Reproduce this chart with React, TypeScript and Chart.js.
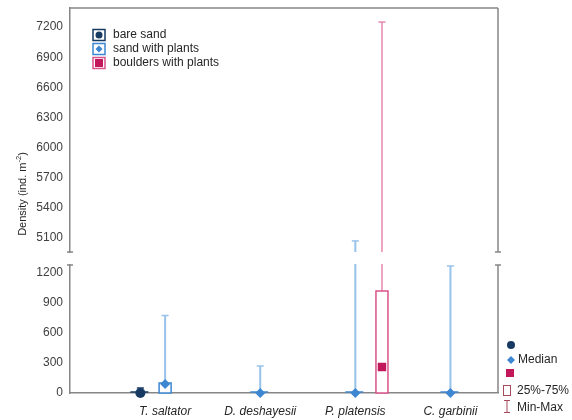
import React, { useEffect, useRef } from 'react';
import { Chart, registerables } from 'chart.js';

Chart.register(...registerables);

// ---------- data ----------
const categories = ['T. saltator', 'D. deshayesii', 'P. platensis', 'C. garbinii'];
const categoryPositions = [1, 2, 3, 4];
const seriesNames = ['bare sand', 'sand with plants', 'boulders with plants'];

const bareMin = [0, null, null, null];
const bareQ1 = [0, null, null, null];
const bareMedian = [0, null, null, null];
const bareQ3 = [0, null, null, null];
const bareMax = [50, null, null, null];

const plantsMin = [0, 0, 0, 0];
const plantsQ1 = [0, 0, 0, 0];
const plantsMedian = [90, 0, 0, 0];
const plantsQ3 = [100, 0, 0, 0];
const plantsMax = [775, 270, 5070, 1270];

const bouldersMin = [null, null, 0, null];
const bouldersQ1 = [null, null, 0, null];
const bouldersMedian = [null, null, 260, null];
const bouldersQ3 = [null, null, 1020, null];
const bouldersMax = [null, null, 7250, null];

const topTicks = [5100, 5400, 5700, 6000, 6300, 6600, 6900, 7200];
const bottomTicks = [0, 300, 600, 900, 1200];
const topRange = [4960, 7390];
const bottomRange = [0, 1280];
const xRange = [0, 4.5];

const yTitle = 'Density (ind. m';
const yTitleSup = '-2';
const keyLabels = ['', 'Median', '', '25%-75%', 'Min-Max'];

// ---------- styles ----------
const FONT = "'Liberation Sans', Arial, sans-serif";
const AXIS = '#868686';
const TEXT = '#262626';
const NAVY = '#173a63';
const BLUE = '#3d86d1';
const BLUE_W = '#97c2ea';
const CRIMSON = '#c2185b';
const PINK = '#d9538a';
const PINK_W = '#e887ae';
const KEY_RED = '#a8495c';

const seriesOffsets = [-0.26, 0, 0.28];
const seriesStyles = [
  { whisker: NAVY, whiskerWidth: 1.5, box: NAVY, point: NAVY, pointStyle: 'circle', radius: 5 },
  { whisker: BLUE_W, whiskerWidth: 2, box: BLUE, point: BLUE, pointStyle: 'rectRot', radius: 5 },
  { whisker: PINK_W, whiskerWidth: 1.5, box: PINK, point: CRIMSON, pointStyle: 'rect', radius: 6 },
];

const seriesList = [
  { min: bareMin, q1: bareQ1, median: bareMedian, q3: bareQ3, max: bareMax },
  { min: plantsMin, q1: plantsQ1, median: plantsMedian, q3: plantsQ3, max: plantsMax },
  { min: bouldersMin, q1: bouldersQ1, median: bouldersMedian, q3: bouldersQ3, max: bouldersMax },
];

const boxWhiskerPlugin = {
  id: 'boxWhisker',
  beforeDatasetsDraw(chart: any, _args: any, opts: any) {
    const { ctx, chartArea: a, scales } = chart;
    const x = scales.x;
    const y = scales.y;
    ctx.save();
    ctx.beginPath();
    ctx.rect(a.left - 20, a.top - (opts.extendTop || 0), a.right - a.left + 40, a.bottom - a.top + (opts.extendTop || 0) + (opts.extendBottom || 0));
    ctx.clip();
    seriesList.forEach((s, si) => {
      const st = seriesStyles[si];
      categories.forEach((_c, i) => {
        if (s.median[i] == null) return;
        const cx = x.getPixelForValue(categoryPositions[i] + seriesOffsets[si]);
        const pMin = y.getPixelForValue(s.min[i]);
        const pQ1 = y.getPixelForValue(s.q1[i]);
        const pQ3 = y.getPixelForValue(s.q3[i]);
        const pMax = y.getPixelForValue(s.max[i]);
        ctx.strokeStyle = st.whisker;
        ctx.lineWidth = st.whiskerWidth;
        ctx.beginPath();
        ctx.moveTo(cx, pQ3);
        ctx.lineTo(cx, pMax);
        ctx.moveTo(cx, pQ1);
        ctx.lineTo(cx, pMin);
        ctx.stroke();
        ctx.lineWidth = 1.5;
        ctx.beginPath();
        ctx.moveTo(cx - 3.5, pMax);
        ctx.lineTo(cx + 3.5, pMax);
        ctx.stroke();
        ctx.strokeStyle = st.box;
        if (pQ1 - pQ3 > 1) {
          ctx.fillStyle = '#ffffff';
          ctx.fillRect(cx - 6, pQ3, 12, pQ1 - pQ3);
          ctx.strokeRect(cx - 6, pQ3, 12, pQ1 - pQ3);
        } else {
          ctx.beginPath();
          ctx.moveTo(cx - 10, pQ1 - 1);
          ctx.lineTo(cx + 8, pQ1 - 1);
          ctx.stroke();
        }
      });
    });
    ctx.restore();
  },
};

const framePlugin = {
  id: 'frame',
  afterDraw(chart: any, _args: any, opts: any) {
    const { ctx, chartArea: a } = chart;
    ctx.save();
    ctx.strokeStyle = AXIS;
    ctx.lineWidth = 1.5;
    ctx.beginPath();
    ctx.moveTo(a.right, a.top);
    ctx.lineTo(a.right, a.bottom);
    if (opts.isTop) {
      ctx.moveTo(a.left, a.top);
      ctx.lineTo(a.right, a.top);
      ctx.moveTo(a.left - 3, a.bottom);
      ctx.lineTo(a.left + 3, a.bottom);
      ctx.moveTo(a.right - 3, a.bottom);
      ctx.lineTo(a.right + 3, a.bottom);
    } else {
      ctx.moveTo(a.left - 3, a.top);
      ctx.lineTo(a.left + 3, a.top);
      ctx.moveTo(a.right - 3, a.top);
      ctx.lineTo(a.right + 3, a.top);
    }
    ctx.stroke();
    ctx.restore();
  },
};

const legendPlugin = {
  id: 'seriesLegend',
  afterDraw(chart: any) {
    const { ctx } = chart;
    ctx.save();
    const ys = [35, 49, 63];
    const outline = [NAVY, BLUE, PINK];
    seriesNames.forEach((name, i) => {
      const cy = ys[i];
      ctx.fillStyle = '#ffffff';
      ctx.fillRect(93, cy - 5.5, 12, 11);
      ctx.strokeStyle = outline[i];
      ctx.lineWidth = 1.5;
      ctx.strokeRect(93, cy - 5.5, 12, 11);
      const mx = 99;
      if (i === 0) {
        ctx.fillStyle = NAVY;
        ctx.beginPath();
        ctx.arc(mx, cy, 3.5, 0, Math.PI * 2);
        ctx.fill();
      } else if (i === 1) {
        ctx.fillStyle = BLUE;
        ctx.beginPath();
        ctx.moveTo(mx, cy - 3.5);
        ctx.lineTo(mx + 3.5, cy);
        ctx.lineTo(mx, cy + 3.5);
        ctx.lineTo(mx - 3.5, cy);
        ctx.closePath();
        ctx.fill();
      } else {
        ctx.fillStyle = CRIMSON;
        ctx.fillRect(mx - 4, cy - 4, 8, 8);
      }
      ctx.fillStyle = TEXT;
      ctx.font = `12px ${FONT}`;
      ctx.textBaseline = 'middle';
      ctx.textAlign = 'left';
      ctx.fillText(name, 113, cy);
    });
    ctx.restore();
  },
};

const keyPlugin = {
  id: 'keyAndTitle',
  afterDraw(chart: any) {
    const { ctx } = chart;
    ctx.save();
    ctx.font = `11px ${FONT}`;
    const w1 = ctx.measureText(yTitle).width;
    ctx.font = `7.5px ${FONT}`;
    const w2 = ctx.measureText(yTitleSup).width;
    ctx.font = `11px ${FONT}`;
    const w3 = ctx.measureText(')').width;
    const total = w1 + w2 + w3;
    ctx.translate(23, 194);
    ctx.rotate(-Math.PI / 2);
    ctx.fillStyle = TEXT;
    ctx.textBaseline = 'middle';
    ctx.textAlign = 'left';
    let px = -total / 2;
    ctx.fillText(yTitle, px, 0);
    px += w1;
    ctx.font = `7.5px ${FONT}`;
    ctx.fillText(yTitleSup, px, -4);
    px += w2;
    ctx.font = `11px ${FONT}`;
    ctx.fillText(')', px, 0);
    ctx.setTransform(1, 0, 0, 1, 0, 0);

    ctx.fillStyle = NAVY;
    ctx.beginPath();
    ctx.arc(511, 345, 4, 0, Math.PI * 2);
    ctx.fill();
    ctx.fillStyle = BLUE;
    ctx.beginPath();
    ctx.moveTo(511, 356);
    ctx.lineTo(515, 360);
    ctx.lineTo(511, 364);
    ctx.lineTo(507, 360);
    ctx.closePath();
    ctx.fill();
    ctx.fillStyle = CRIMSON;
    ctx.fillRect(506, 369, 8, 8);
    ctx.strokeStyle = KEY_RED;
    ctx.lineWidth = 1;
    ctx.strokeRect(503.5, 385.5, 7, 10);
    ctx.beginPath();
    ctx.moveTo(504, 400.5);
    ctx.lineTo(510, 400.5);
    ctx.moveTo(507, 400.5);
    ctx.lineTo(507, 412.5);
    ctx.moveTo(504, 412.5);
    ctx.lineTo(510, 412.5);
    ctx.stroke();
    ctx.fillStyle = TEXT;
    ctx.font = `12px ${FONT}`;
    ctx.textBaseline = 'middle';
    const keyYs = [345, 360, 373, 391, 408];
    keyLabels.forEach((t, i) => {
      if (t) ctx.fillText(t, i === 1 ? 518 : 517, keyYs[i]);
    });
    ctx.restore();
  },
};

function buildDatasets(clip: boolean) {
  return seriesList.map((s, si) => ({
    type: 'scatter' as const,
    label: seriesNames[si],
    data: categories
      .map((_c, i) => (s.median[i] == null ? null : { x: categoryPositions[i] + seriesOffsets[si], y: s.median[i] }))
      .filter((d) => d !== null),
    pointStyle: seriesStyles[si].pointStyle,
    pointRadius: seriesStyles[si].radius,
    backgroundColor: seriesStyles[si].point,
    borderColor: seriesStyles[si].point,
    borderWidth: 0,
    clip: clip ? undefined : false,
  }));
}

function buildOptions(isTop: boolean): any {
  const yMin = isTop ? topRange[0] : bottomRange[0];
  const yMax = isTop ? topRange[1] : bottomRange[1];
  const yTicks = isTop ? topTicks : bottomTicks;
  return {
    responsive: false,
    animation: false,
    events: [],
    layout: {
      padding: isTop ? { top: 8, bottom: 168, right: 74, left: 0 } : { top: 265, bottom: 0, right: 74, left: 0 },
    },
    plugins: {
      legend: { display: false },
      tooltip: { enabled: false },
      boxWhisker: isTop ? { extendTop: 0, extendBottom: 0 } : { extendTop: 1, extendBottom: 6 },
      frame: { isTop },
    },
    scales: {
      x: {
        type: 'linear',
        min: xRange[0],
        max: xRange[1],
        display: !isTop,
        grid: { display: false, drawTicks: false },
        border: { display: true, color: AXIS, width: 1.5 },
        afterBuildTicks: (s: any) => {
          s.ticks = categoryPositions.map((v) => ({ value: v }));
        },
        afterFit: (s: any) => {
          s.height = isTop ? 0 : 27;
          s.paddingLeft = 0;
          s.paddingRight = 0;
        },
        ticks: {
          autoSkip: false,
          maxRotation: 0,
          padding: 11,
          color: TEXT,
          font: { family: FONT, size: 12, style: 'italic' },
          callback: (v: any) => {
            const idx = categoryPositions.indexOf(Number(v));
            return idx >= 0 ? categories[idx] : '';
          },
        },
      },
      y: {
        type: 'linear',
        min: yMin,
        max: yMax,
        grid: { display: false, drawTicks: false },
        border: { display: true, color: AXIS, width: 1.5 },
        afterBuildTicks: (s: any) => {
          s.ticks = yTicks.map((v) => ({ value: v }));
        },
        afterFit: (s: any) => {
          s.width = 70;
          s.paddingTop = 0;
          s.paddingBottom = 0;
        },
        ticks: {
          padding: 7,
          color: '#404040',
          font: { family: FONT, size: 12 },
          callback: (v: any) => String(v),
        },
      },
    },
  };
}

export default function App() {
  const topRef = useRef<HTMLCanvasElement | null>(null);
  const botRef = useRef<HTMLCanvasElement | null>(null);

  useEffect(() => {
    const top = new Chart(topRef.current as HTMLCanvasElement, {
      type: 'scatter',
      data: { datasets: buildDatasets(true) as any },
      options: buildOptions(true),
      plugins: [boxWhiskerPlugin, framePlugin, legendPlugin],
    });
    const bot = new Chart(botRef.current as HTMLCanvasElement, {
      type: 'scatter',
      data: { datasets: buildDatasets(false) as any },
      options: buildOptions(false),
      plugins: [boxWhiskerPlugin, framePlugin, keyPlugin],
    });
    return () => {
      top.destroy();
      bot.destroy();
    };
  }, []);

  const canvasStyle: React.CSSProperties = { position: 'absolute', left: 0, top: 0, width: 572, height: 420 };
  return (
    <div style={{ position: 'absolute', left: 0, top: 0, width: 572, height: 420, background: '#ffffff' }}>
      <canvas ref={topRef} width={572} height={420} style={canvasStyle} />
      <canvas ref={botRef} width={572} height={420} style={canvasStyle} />
    </div>
  );
}
